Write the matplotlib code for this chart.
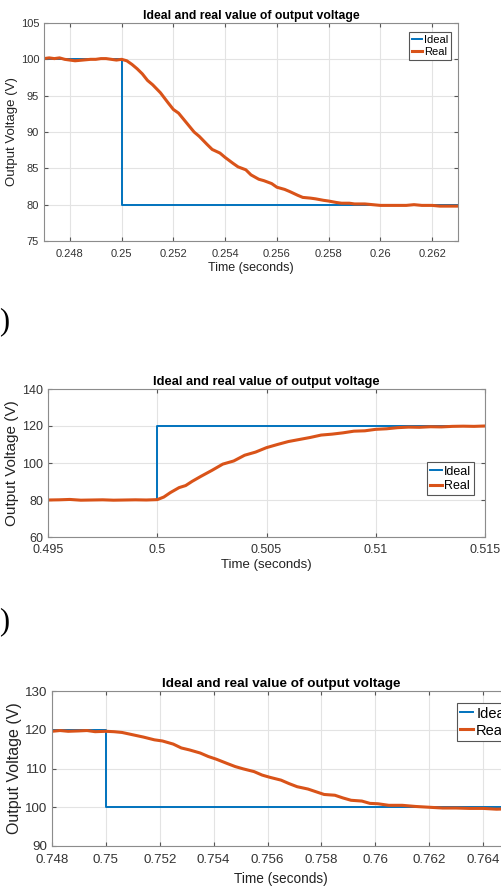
import matplotlib
matplotlib.use('Agg')
import matplotlib.pyplot as plt

plt.rcParams['font.family'] = ['Liberation Sans', 'DejaVu Sans']

BLUE = '#0072BD'
ORANGE = '#D95319'

# ---- panel 1: step 100 V -> 80 V ----
p1_ideal_t = [0.247, 0.250, 0.250, 0.263]
p1_ideal_v = [100, 100, 80, 80]
p1_real_t = [0.2470, 0.2472, 0.2474, 0.2476, 0.2478, 0.2480, 0.2482, 0.2485, 0.2488,
             0.2490, 0.2492, 0.2494, 0.2496, 0.2498, 0.2500, 0.2502, 0.2504, 0.2506,
             0.2508, 0.2510, 0.2512, 0.2515, 0.2518, 0.2520, 0.2522, 0.2525, 0.2528,
             0.2530, 0.2533, 0.2535, 0.2538, 0.2540, 0.2543, 0.2545, 0.2548, 0.2550,
             0.2553, 0.2555, 0.2558, 0.2560, 0.2563, 0.2565, 0.2568, 0.2570, 0.2573,
             0.2575, 0.2578, 0.2580, 0.2583, 0.2585, 0.2588, 0.2590, 0.2594, 0.2597,
             0.2600, 0.2603, 0.2606, 0.2610, 0.2613, 0.2616, 0.2620, 0.2623, 0.2626, 0.2630]
p1_real_v = [100.1, 100.2, 100.1, 100.2, 100.0, 99.9, 99.8, 99.9, 100.0,
             100.0, 100.1, 100.1, 100.0, 99.9, 100.0, 99.8, 99.3, 98.7,
             98.0, 97.1, 96.5, 95.4, 94.0, 93.1, 92.6, 91.3, 90.0,
             89.4, 88.3, 87.6, 87.1, 86.5, 85.7, 85.2, 84.8, 84.1,
             83.5, 83.3, 82.9, 82.4, 82.1, 81.8, 81.3, 81.0, 80.9,
             80.8, 80.6, 80.5, 80.3, 80.2, 80.2, 80.1, 80.1, 80.0,
             79.9, 79.9, 79.9, 79.9, 80.0, 79.9, 79.9, 79.8, 79.8, 79.8]

# ---- panel 2: step 80 V -> 120 V ----
p2_ideal_t = [0.495, 0.500, 0.500, 0.515]
p2_ideal_v = [80, 80, 120, 120]
p2_real_t = [0.4950, 0.4955, 0.4960, 0.4965, 0.4970, 0.4975, 0.4980, 0.4985, 0.4990,
             0.4995, 0.5000, 0.5003, 0.5006, 0.5010, 0.5013, 0.5016, 0.5020, 0.5025,
             0.5030, 0.5035, 0.5040, 0.5045, 0.5050, 0.5055, 0.5060, 0.5065, 0.5070,
             0.5075, 0.5080, 0.5085, 0.5090, 0.5095, 0.5100, 0.5105, 0.5110, 0.5115,
             0.5120, 0.5125, 0.5130, 0.5135, 0.5140, 0.5145, 0.5150]
p2_real_v = [80.0, 80.1, 80.3, 79.9, 80.0, 80.1, 79.9, 80.0, 80.1,
             80.0, 80.2, 81.6, 84.0, 86.7, 87.8, 90.1, 92.8, 96.0,
             99.4, 101.1, 104.2, 105.9, 108.3, 110.0, 111.6, 112.7, 113.8,
             115.1, 115.6, 116.3, 117.2, 117.4, 118.2, 118.5, 119.1, 119.4,
             119.3, 119.6, 119.5, 119.8, 119.9, 119.8, 120.0]

# ---- panel 3: step 120 V -> 100 V ----
p3_ideal_t = [0.748, 0.750, 0.750, 0.765]
p3_ideal_v = [120, 120, 100, 100]
p3_real_t = [0.7480, 0.7483, 0.7486, 0.7490, 0.7493, 0.7496, 0.7500, 0.7503, 0.7506,
             0.7510, 0.7514, 0.7518, 0.7521, 0.7525, 0.7528, 0.7531, 0.7535, 0.7538,
             0.7541, 0.7545, 0.7548, 0.7551, 0.7555, 0.7558, 0.7561, 0.7565, 0.7568,
             0.7571, 0.7575, 0.7578, 0.7581, 0.7585, 0.7588, 0.7591, 0.7595, 0.7598,
             0.7601, 0.7605, 0.7610, 0.7615, 0.7620, 0.7625, 0.7630, 0.7635, 0.7640,
             0.7645, 0.7650]
p3_real_v = [119.6, 119.8, 119.6, 119.7, 119.8, 119.5, 119.6, 119.5, 119.3,
             118.7, 118.1, 117.4, 117.1, 116.3, 115.3, 114.8, 114.0, 113.1,
             112.4, 111.3, 110.5, 109.9, 109.2, 108.3, 107.7, 107.0, 106.1,
             105.3, 104.7, 104.0, 103.3, 103.1, 102.4, 101.8, 101.6, 101.0,
             100.9, 100.5, 100.5, 100.2, 100.0, 99.8, 99.8, 99.7, 99.7,
             99.5, 99.6]

p1_xticks = [0.248, 0.250, 0.252, 0.254, 0.256, 0.258, 0.260, 0.262]
p1_xlabels = ['0.248', '0.25', '0.252', '0.254', '0.256', '0.258', '0.26', '0.262']
p1_yticks = [75, 80, 85, 90, 95, 100, 105]
p2_xticks = [0.495, 0.500, 0.505, 0.510, 0.515]
p2_xlabels = ['0.495', '0.5', '0.505', '0.51', '0.515']
p2_yticks = [60, 80, 100, 120, 140]
p3_xticks = [0.748, 0.750, 0.752, 0.754, 0.756, 0.758, 0.760, 0.762, 0.764]
p3_xlabels = ['0.748', '0.75', '0.752', '0.754', '0.756', '0.758', '0.76', '0.762', '0.764']
p3_yticks = [90, 100, 110, 120, 130]

title = 'Ideal and real value of output voltage'

fig = plt.figure(figsize=(5.01, 8.91), dpi=100)


def draw(ax, it, iv, rt, rv, xlim, ylim, xt, xl, yt, fs, tfs, xlfs, ylfs, xpad, xlpad,
         legloc, legbox, legfs):
    ax.plot(it, iv, color=BLUE, linewidth=1.4, label='Ideal')
    ax.plot(rt, rv, color=ORANGE, linewidth=2.2, label='Real')
    ax.set_xlim(*xlim)
    ax.set_ylim(*ylim)
    ax.set_xticks(xt)
    ax.set_xticklabels(xl)
    ax.set_yticks(yt)
    ax.grid(True, color='#e3e3e3', linewidth=0.8)
    ax.set_axisbelow(True)
    for s in ax.spines.values():
        s.set_color('#8c8c8c')
        s.set_linewidth(0.8)
    ax.tick_params(direction='in', length=3, color='#555555', labelsize=fs,
                   labelcolor='#333333', top=True, right=True)
    ax.tick_params(axis='x', pad=xpad)
    ax.set_title(title, fontsize=tfs, fontweight='bold', pad=3)
    ax.set_xlabel('Time (seconds)', fontsize=xlfs, labelpad=xlpad, color='#222222')
    ax.set_ylabel('Output Voltage (V)', fontsize=ylfs, labelpad=2, color='#222222')
    leg = ax.legend(loc=legloc, bbox_to_anchor=legbox, fontsize=legfs, handlelength=0.9,
                    handletextpad=0.2, borderpad=0.25, labelspacing=0.2,
                    fancybox=False, framealpha=1, edgecolor='#555555')
    leg.get_frame().set_linewidth(0.8)


ax1 = fig.add_axes([44 / 501, 1 - 241 / 891, 414 / 501, 218 / 891])
draw(ax1, p1_ideal_t, p1_ideal_v, p1_real_t, p1_real_v, (0.247, 0.263), (75, 105),
     p1_xticks, p1_xlabels, p1_yticks, 8, 8.8, 9, 9.5, 6, 2,
     'upper right', (0.997, 0.985), 8)

ax2 = fig.add_axes([48 / 501, 1 - 537 / 891, 437 / 501, 148 / 891])
draw(ax2, p2_ideal_t, p2_ideal_v, p2_real_t, p2_real_v, (0.495, 0.515), (60, 140),
     p2_xticks, p2_xlabels, p2_yticks, 9, 9.3, 9.5, 11, 5, 2,
     'lower right', (0.99, 0.24), 9)

ax3 = fig.add_axes([52 / 501, 1 - 846 / 891, 458 / 501, 155 / 891])
draw(ax3, p3_ideal_t, p3_ideal_v, p3_real_t, p3_real_v, (0.748, 0.765), (90, 130),
     p3_xticks, p3_xlabels, p3_yticks, 9.6, 9.7, 9.8, 11.5, 6, 4,
     'upper right', (1.02, 0.97), 10.5)

# leftover panel-label parentheses from the cropped figure
fig.text(9 / 501, 1 - 322 / 891, ')', ha='right', va='center', fontsize=22,
         family='Liberation Serif')
fig.text(9 / 501, 1 - 622 / 891, ')', ha='right', va='center', fontsize=22,
         family='Liberation Serif')

fig.savefig('out.png', dpi=100)
